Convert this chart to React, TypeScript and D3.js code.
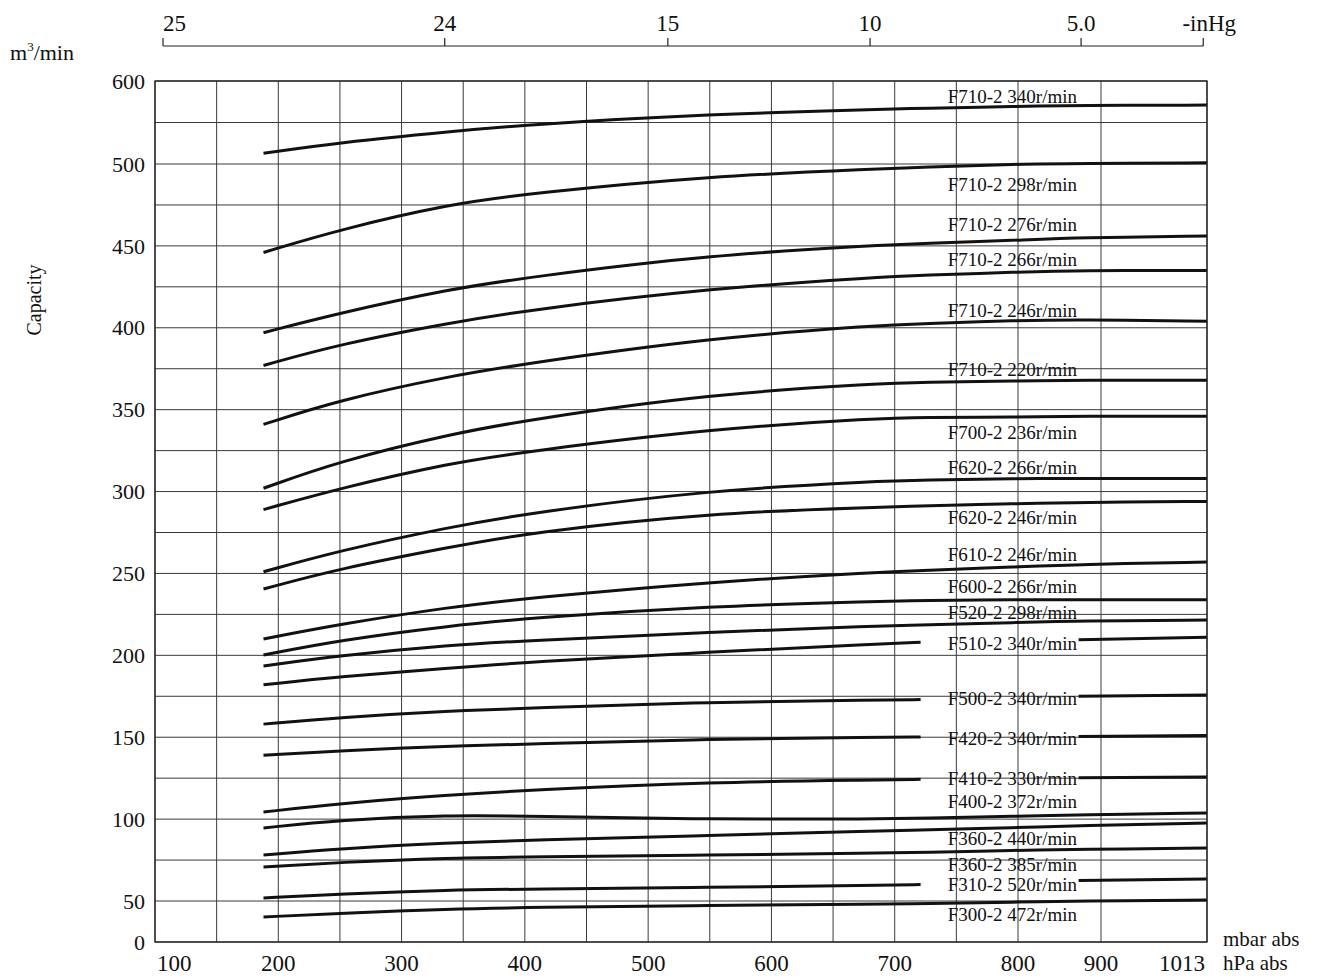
import React from 'react';
import * as d3 from 'd3';

// Pressure (mbar abs) at which each curve is sampled
const pressures = [188, 250, 339, 404, 550, 688, 721, 800, 873, 1013];

const seriesNames = [
  'F710-2 340r/min', 'F710-2 298r/min', 'F710-2 276r/min', 'F710-2 266r/min',
  'F710-2 246r/min', 'F710-2 220r/min', 'F700-2 236r/min', 'F620-2 266r/min',
  'F620-2 246r/min', 'F610-2 246r/min', 'F600-2 266r/min', 'F520-2 298r/min',
  'F510-2 340r/min', 'F500-2 340r/min', 'F420-2 340r/min', 'F410-2 330r/min',
  'F400-2 372r/min', 'F360-2 440r/min', 'F360-2 385r/min', 'F310-2 520r/min',
  'F300-2 472r/min',
];

// Capacity (m³/min) per pump at each pressure; null = gap left for the label
const f710_340 = [513, 526, 539, 547.6, 560, 566, 567, 569.5, 570.5, 571];
const f710_298 = [446, 460, 475.5, 482, 492.6, 497, 498, 500, 500.5, 501.5];
const f710_276 = [397, 409, 423.6, 431, 444.4, 450.5, 451.5, 453.5, 455, 456];
const f710_266 = [377, 390, 403, 411, 424, 431, 432, 434, 435, 435];
const f710_246 = [341, 356, 370.5, 378.5, 393.7, 401.6, 402.5, 404.5, 405, 404];
const f710_220 = [302, 318.6, 335, 344, 359.5, 366, 366.8, 367.5, 368, 368];
const f700_236 = [289, 302, 317.4, 324.7, 338.2, 344.9, 345.3, 345.5, 346, 346];
const f620_266 = [251, 264, 278.3, 287, 300.9, 306.4, 307, 308, 308, 308];
const f620_246 = [240.5, 253, 266, 275, 287, 290.5, 291.2, 292.6, 293.4, 294];
const f610_246 = [210, 219, 229.5, 235, 244.8, 250.9, 251.8, 254, 255.5, 257];
const f600_266 = [200.2, 209.3, 218, 222.8, 230, 233, 233.5, 234, 234, 234];
const f520_298 = [193.5, 199.8, 206.3, 209, 214.2, 218, 218.5, 220, 221, 221.5];
const f510_340 = [182, 187, 192.2, 196, 202, 207, 208, null, 209.5, 211];
const f500_340 = [158, 162, 166, 167.8, 171.5, 172.7, 173, null, 175, 175.8];
const f420_340 = [139, 141.8, 144.6, 145.8, 148.9, 150, 150.2, null, 150.5, 151];
const f410_330 = [104.3, 109.6, 114.7, 117.8, 122.6, 123.9, 124.3, null, 125.3, 125.7];
const f400_372 = [94.6, 99.5, 102.5, 101.8, 99.8, 100, 100.5, 101.8, 102.7, 103.7];
const f360_440 = [78.1, 82, 85.5, 87.2, 90, 92.8, 93.4, 94.8, 96, 97.6];
const f360_385 = [70.8, 73.6, 76.3, 76.9, 78, 79.3, 79.6, 81, 81.5, 82.4];
const f310_520 = [51.8, 54.3, 56.7, 57.3, 58.3, 59.6, 60, null, 62.5, 63.4];
const f300_472 = [30.5, 35, 40.2, 42.2, 44.5, 46.3, 46.7, 48.8, 49.8, 50.6];

const seriesValues = [
  f710_340, f710_298, f710_276, f710_266, f710_246, f710_220, f700_236,
  f620_266, f620_246, f610_246, f600_266, f520_298, f510_340, f500_340,
  f420_340, f410_330, f400_372, f360_440, f360_385, f310_520, f300_472,
];

// Capacity level at which each curve's name sits
const labelLevels = [
  574, 483.5, 459, 437.7, 406.5, 370.5, 332, 310.7, 280, 257.6, 238, 222,
  203, 169.7, 145, 120.8, 106.8, 84.2, 68.3, 56, 25.6,
];
const labelPressure = 743;

const xTicks = [100, 200, 300, 400, 500, 600, 700, 800, 900, 1013];
const xGrid = [100, 150, 200, 250, 300, 350, 400, 450, 500, 550, 600, 650, 700, 750, 800, 900, 1013];
const yTicks = [0, 50, 100, 150, 200, 250, 300, 350, 400, 450, 500, 600];
const yGrid = [0, 50, 75, 100, 125, 150, 175, 200, 225, 250, 275, 300, 325, 350, 375, 400, 425, 450, 475, 500, 550, 600];

// Vacuum scale (-inHg) and the absolute pressure each mark lines up with
const inHgLabels = ['25', '24', '15', '10', '5.0', '-inHg'];
const inHgAtMbar = [106.5, 335, 516, 680, 876, 1009];

const SERIF = '"Liberation Serif", "Times New Roman", serif';

export default function App() {
  const x = d3.scaleLinear().domain([100, 800, 900, 1013]).range([155, 1018, 1101, 1207]);
  const y = d3.scaleLinear().domain([0, 50, 500, 600]).range([942, 901, 164, 81]);

  const line = d3
    .line<number | null>()
    .defined((d) => d !== null)
    .x((_, i) => x(pressures[i]))
    .y((d) => y(d as number))
    .curve(d3.curveBasis);

  const topY = 46;

  return (
    <svg
      width={1324}
      height={979}
      style={{ position: 'absolute', left: 0, top: 0, background: '#fff' }}
      fontFamily={SERIF}
    >
      <rect x={0} y={0} width={1324} height={979} fill="#fff" />

      {/* grid */}
      <g stroke="#3a3a3a" strokeWidth={1}>
        {xGrid.map((v) => (
          <line key={'gx' + v} x1={x(v)} x2={x(v)} y1={y(600)} y2={y(0)} />
        ))}
        {yGrid.map((v) => (
          <line key={'gy' + v} x1={x(100)} x2={x(1013)} y1={y(v)} y2={y(v)} />
        ))}
      </g>

      {/* curves */}
      <g fill="none" stroke="#111" strokeWidth={3}>
        {seriesValues.map((vals, i) => (
          <path key={'c' + i} d={line(vals) || ''} />
        ))}
      </g>

      {/* curve names */}
      <g fontSize={19} fill="#111">
        {seriesNames.map((name, i) => (
          <text key={'n' + i} x={x(labelPressure)} y={y(labelLevels[i])}>
            {name}
          </text>
        ))}
      </g>

      {/* y axis labels */}
      <g fontSize={22} fill="#111" textAnchor="end">
        {yTicks.map((v) => (
          <text key={'yt' + v} x={145} y={y(v)} dy="0.35em">
            {v}
          </text>
        ))}
      </g>

      {/* bottom axis labels */}
      <g fontSize={23} fill="#111">
        {xTicks.map((v, i) => (
          <text
            key={'xt' + v}
            x={i === 0 ? x(v) + 2 : i === xTicks.length - 1 ? x(v) - 2 : x(v)}
            y={971}
            textAnchor={i === 0 ? 'start' : i === xTicks.length - 1 ? 'end' : 'middle'}
          >
            {v}
          </text>
        ))}
      </g>
      <g fontSize={21} fill="#111">
        <text x={1223} y={946}>mbar abs</text>
        <text x={1223} y={970}>hPa abs</text>
      </g>

      {/* top vacuum axis */}
      <g stroke="#222" strokeWidth={1.2}>
        <line x1={x(inHgAtMbar[0])} x2={x(inHgAtMbar[inHgAtMbar.length - 1])} y1={topY} y2={topY} />
        {inHgAtMbar.map((m, i) => (
          <line key={'tt' + i} x1={x(m)} x2={x(m)} y1={topY} y2={topY - 8} />
        ))}
      </g>
      <g fontSize={23} fill="#111">
        {inHgLabels.map((t, i) => (
          <text
            key={'tl' + i}
            x={i === inHgLabels.length - 1 ? x(inHgAtMbar[i]) + 6 : x(inHgAtMbar[i])}
            y={31}
            textAnchor={i === 0 ? 'start' : 'middle'}
          >
            {t}
          </text>
        ))}
      </g>

      {/* units and axis title */}
      <text x={10} y={60} fontSize={22} fill="#111">
        m<tspan fontSize={13} dy={-9}>3</tspan>
        <tspan dy={9}>/min</tspan>
      </text>
      <text
        transform="translate(41,300) rotate(-90)"
        textAnchor="middle"
        fontSize={20}
        fill="#111"
      >
        Capacity
      </text>

      {/* frame */}
      <rect
        x={x(100)}
        y={y(600)}
        width={x(1013) - x(100)}
        height={y(0) - y(600)}
        fill="none"
        stroke="#222"
        strokeWidth={1.3}
      />
    </svg>
  );
}
